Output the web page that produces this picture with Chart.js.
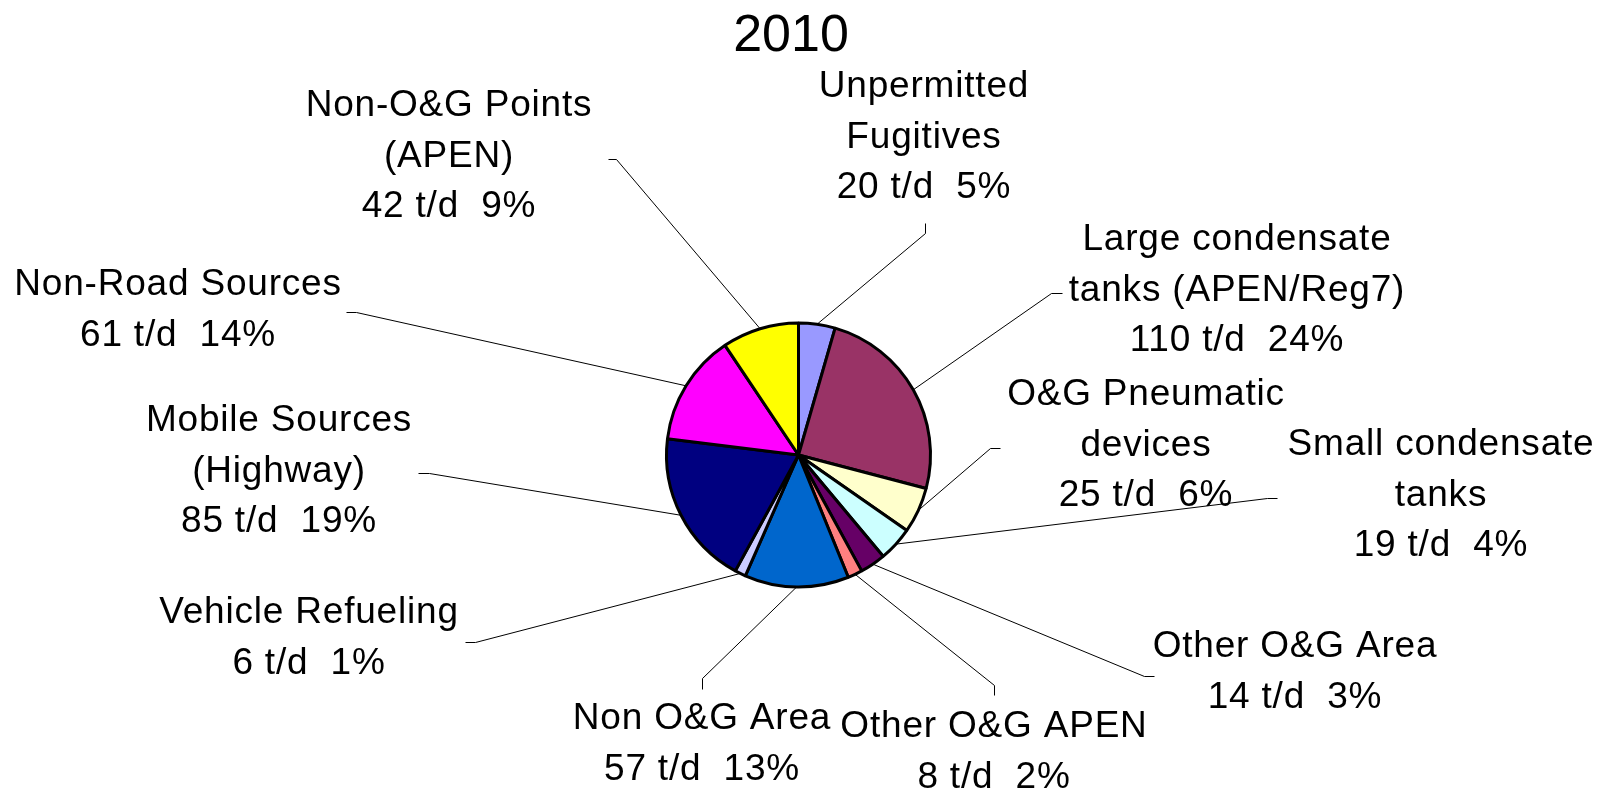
<!DOCTYPE html>
<html>
<head>
<meta charset="utf-8">
<script src="https://cdn.jsdelivr.net/npm/chart.js@4/dist/chart.umd.min.js"></script>
<style>
  html, body { margin: 0; padding: 0; background: #fff; }
  #wrap { width: 1610px; height: 792px; position: relative; }
</style>
</head>
<body>
<div id="wrap"><canvas id="c" width="1610" height="792"></canvas></div>
<script>
// ---- data ----
const chartTitle = '2010';
const categories = [
  'Unpermitted Fugitives',
  'Large condensate tanks (APEN/Reg7)',
  'O&G Pneumatic devices',
  'Small condensate tanks',
  'Other O&G Area',
  'Other O&G APEN',
  'Non O&G Area',
  'Vehicle Refueling',
  'Mobile Sources (Highway)',
  'Non-Road Sources',
  'Non-O&G Points (APEN)'
];
const labelLines = [
  ['Unpermitted', 'Fugitives'],
  ['Large condensate', 'tanks (APEN/Reg7)'],
  ['O&G Pneumatic', 'devices'],
  ['Small condensate', 'tanks'],
  ['Other O&G Area'],
  ['Other O&G APEN'],
  ['Non O&G Area'],
  ['Vehicle Refueling'],
  ['Mobile Sources', '(Highway)'],
  ['Non-Road Sources'],
  ['Non-O&G Points', '(APEN)']
];
const tonsPerDay = [20, 110, 25, 19, 14, 8, 57, 6, 85, 61, 42];
const percentShown = [5, 24, 6, 4, 3, 2, 13, 1, 19, 14, 9];
const sliceColors = ['#9999FF', '#993366', '#FFFFCC', '#CCFFFF', '#660066', '#FF8080',
                     '#0066CC', '#CCCCFF', '#000080', '#FF00FF', '#FFFF00'];

// ---- label layout (positions of label text blocks and leader stubs) ----
const labelLayout = [
  { cx: 924,  cy: 87,  stub: [[925, 223], [925, 233]] },
  { cx: 1237, cy: 240, stub: [[1062, 293], [1051, 293]] },
  { cx: 1146, cy: 395, stub: [[1000, 448], [990, 448]] },
  { cx: 1441, cy: 445, stub: [[1277, 498], [1267, 498]] },
  { cx: 1295, cy: 647, stub: [[1154, 676], [1144, 676]] },
  { cx: 994,  cy: 727, stub: [[994, 695], [994, 685]] },
  { cx: 702,  cy: 719, stub: [[702, 689], [702, 678]] },
  { cx: 309,  cy: 613, stub: [[465, 642], [475, 642]] },
  { cx: 279,  cy: 421, stub: [[418, 473], [429, 473]] },
  { cx: 178,  cy: 285, stub: [[346, 312], [356, 312]] },
  { cx: 449,  cy: 106, stub: [[608, 159], [616, 159]] }
];
const LINE_GAP = 50.5;
const FONT = '"Liberation Sans", Arial, sans-serif';

const labelPlugin = {
  id: 'pieLabels',
  afterDatasetsDraw(chart) {
    const ctx = chart.ctx;
    const meta = chart.getDatasetMeta(0);
    ctx.save();
    // title
    ctx.fillStyle = '#000';
    ctx.font = '52px ' + FONT;
    ctx.textAlign = 'center';
    ctx.textBaseline = 'alphabetic';
    ctx.fillText(chartTitle, 791, 51);
    // leader lines
    ctx.strokeStyle = '#000';
    ctx.lineWidth = 1;
    meta.data.forEach((arc, i) => {
      const lay = labelLayout[i];
      const mid = (arc.startAngle + arc.endAngle) / 2;
      const px = arc.x + Math.cos(mid) * arc.outerRadius;
      const py = arc.y + Math.sin(mid) * arc.outerRadius;
      ctx.beginPath();
      ctx.moveTo(lay.stub[0][0] + 0.5, lay.stub[0][1] + 0.5);
      ctx.lineTo(lay.stub[1][0] + 0.5, lay.stub[1][1] + 0.5);
      ctx.lineTo(px, py);
      ctx.stroke();
    });
    // label text
    ctx.font = '37px ' + FONT;
    ctx.textAlign = 'center';
    ctx.textBaseline = 'middle';
    try { ctx.letterSpacing = '0.8px'; } catch (e) {}
    labelLines.forEach((lines, i) => {
      const lay = labelLayout[i];
      const all = lines.concat([tonsPerDay[i] + ' t/d  ' + percentShown[i] + '%']);
      all.forEach((t, k) => {
        ctx.fillText(t, lay.cx, lay.cy + k * LINE_GAP);
      });
    });
    ctx.restore();
  }
};

new Chart(document.getElementById('c'), {
  type: 'pie',
  data: {
    labels: categories,
    datasets: [{
      data: tonsPerDay,
      backgroundColor: sliceColors,
      borderColor: '#000',
      borderWidth: 3,
      radius: 132
    }]
  },
  options: {
    responsive: false,
    animation: false,
    events: [],
    layout: { padding: { top: 118, bottom: 0, left: 0, right: 13 } },
    plugins: {
      legend: { display: false },
      tooltip: { enabled: false },
      title: { display: false }
    }
  },
  plugins: [labelPlugin]
});
</script>
</body>
</html>
